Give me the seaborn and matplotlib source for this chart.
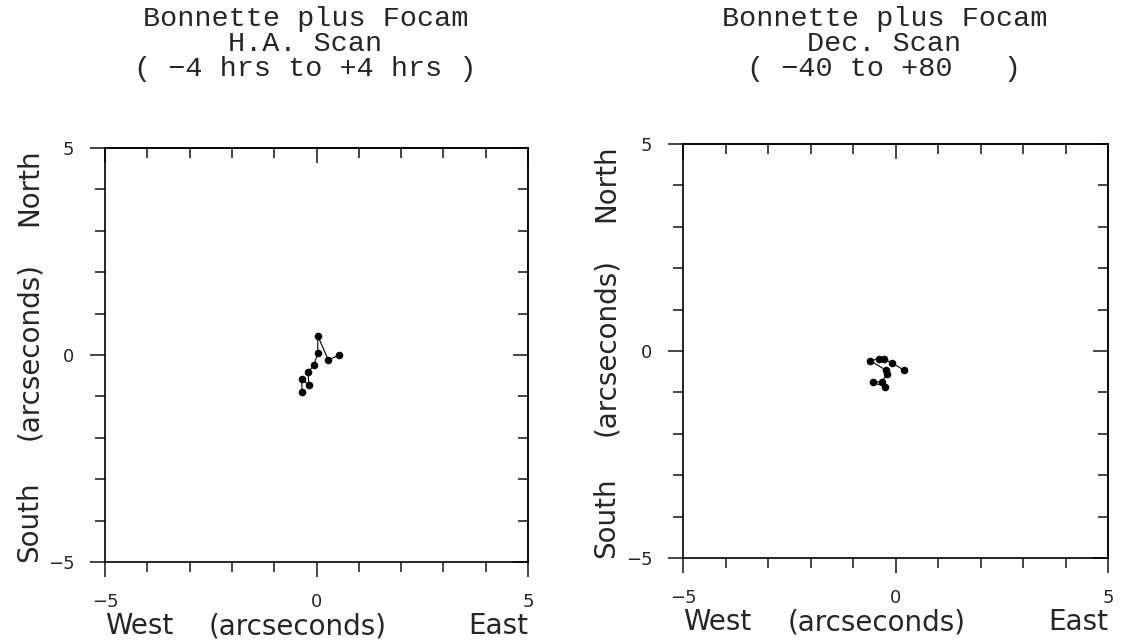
import numpy as np
import pandas as pd
import matplotlib
matplotlib.use("Agg")
import matplotlib.pyplot as plt
import seaborn as sns
from matplotlib.ticker import MultipleLocator

sns.set_style("white")

# H.A. scan offsets (arcsec), in plotted order
ha_east = [-0.34, -0.35, -0.18, -0.20, -0.06, 0.03, 0.03, 0.28, 0.54]
ha_north = [-0.89, -0.59, -0.72, -0.42, -0.24, 0.04, 0.46, -0.12, 0.00]

# Dec. scan offsets (arcsec), in plotted order
dec_east = [-0.24, -0.54, -0.32, -0.20, -0.23, -0.60, -0.39, -0.28, -0.09, 0.19]
dec_north = [-0.86, -0.76, -0.74, -0.56, -0.46, -0.23, -0.19, -0.20, -0.28, -0.46]

titles = ["Bonnette plus Focam\nH.A. Scan\n( \u22124 hrs to +4 hrs )",
          "Bonnette plus Focam\nDec. Scan\n( \u221240 to +80   )"]
tick_vals = [-5, 0, 5]
tick_labels = ["\u22125", "0", "5"]

label_font = "DejaVu Sans"
title_font = "Liberation Mono"

fig = plt.figure(figsize=(11.27, 6.43), dpi=100)
positions = [[105 / 1127, 1 - 562 / 643, 423 / 1127, 414 / 643],
             [683 / 1127, 1 - 558 / 643, 425 / 1127, 414 / 643]]
datasets = [(ha_east, ha_north), (dec_east, dec_north)]


def style_axes(ax):
    ax.set_xlim(-5, 5)
    ax.set_ylim(-5, 5)
    for s in ax.spines.values():
        s.set_linewidth(1.2)
        s.set_color("black")
    ax.xaxis.set_minor_locator(MultipleLocator(1))
    ax.yaxis.set_minor_locator(MultipleLocator(1))
    ax.set_xticks(tick_vals)
    ax.set_xticklabels(tick_labels)
    ax.set_yticks(tick_vals)
    ax.set_yticklabels(tick_labels)
    ax.tick_params(which="major", direction="out", length=11, width=1.2,
                   bottom=True, left=True, top=False, right=False,
                   labelsize=13, pad=11)
    ax.tick_params(which="minor", direction="out", length=7, width=1.2,
                   bottom=True, left=True, top=False, right=False)
    for lab in ax.get_xticklabels() + ax.get_yticklabels():
        lab.set_family(label_font)
    # inward ticks on top and right
    top = ax.secondary_xaxis("top")
    top.xaxis.set_major_locator(MultipleLocator(5))
    top.xaxis.set_minor_locator(MultipleLocator(1))
    top.tick_params(which="major", direction="in", length=11, width=1.2, labeltop=False)
    top.tick_params(which="minor", direction="in", length=7, width=1.2)
    top.spines["top"].set_linewidth(1.2)
    right = ax.secondary_yaxis("right")
    right.yaxis.set_major_locator(MultipleLocator(5))
    right.yaxis.set_minor_locator(MultipleLocator(1))
    right.tick_params(which="major", direction="in", length=11, width=1.2, labelright=False)
    right.tick_params(which="minor", direction="in", length=7, width=1.2)
    right.spines["right"].set_linewidth(1.2)


for i, (pos, (ex, no)) in enumerate(zip(positions, datasets)):
    ax = fig.add_axes(pos)
    df = pd.DataFrame({"east": ex, "north": no})
    sns.lineplot(data=df, x="east", y="north", sort=False, estimator=None,
                 color="black", linewidth=0.8, ax=ax)
    sns.scatterplot(data=df, x="east", y="north", color="black", s=30,
                    edgecolor="black", linewidth=0, ax=ax, zorder=3)
    style_axes(ax)
    ax.set_xlabel("")
    ax.set_ylabel("")

    # x label: West ... (arcseconds) ... East
    ax.text(0.0, -0.155, "West", transform=ax.transAxes, ha="left", va="center",
            fontsize=20, family=label_font)
    ax.text(0.455, -0.155, "(arcseconds)", transform=ax.transAxes, ha="center",
            va="center", fontsize=20, family=label_font)
    ax.text(1.0, -0.155, "East", transform=ax.transAxes, ha="right", va="center",
            fontsize=20, family=label_font)
    # y label: South ... (arcseconds) ... North
    ax.text(-0.18, 0.0, "South", transform=ax.transAxes, ha="center", va="bottom",
            rotation=90, fontsize=20, family=label_font)
    ax.text(-0.18, 0.51, "(arcseconds)", transform=ax.transAxes, ha="center",
            va="center", rotation=90, fontsize=20, family=label_font)
    ax.text(-0.18, 1.0, "North", transform=ax.transAxes, ha="center", va="top",
            rotation=90, fontsize=20, family=label_font)

    fig.text(pos[0] + pos[2] / 2 - 0.01, 0.99, titles[i], ha="center", va="top",
             fontsize=20.5, family=title_font, linespacing=0.95)

fig.savefig("out.png", dpi=100)
